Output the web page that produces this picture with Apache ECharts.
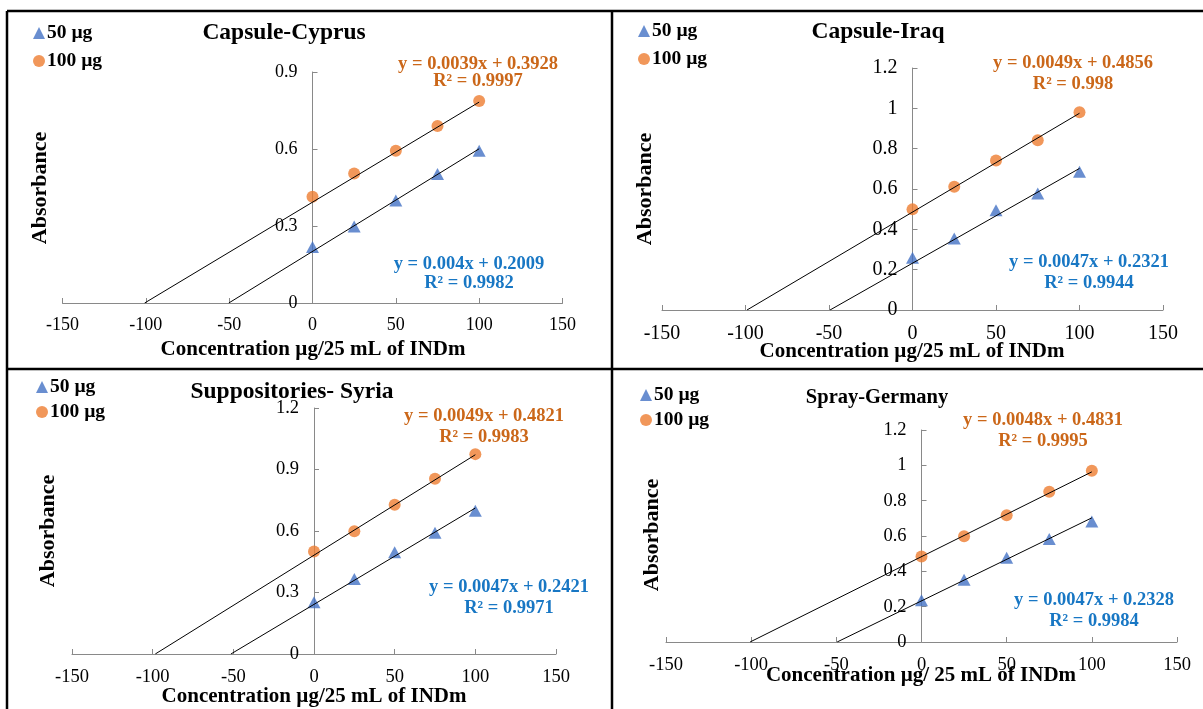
<!DOCTYPE html>
<html>
<head>
<meta charset="utf-8">
<script src="https://cdn.jsdelivr.net/npm/echarts@6/dist/echarts.min.js"></script>
<style>
  html, body { margin: 0; padding: 0; background: #fff; }
  #chart { width: 1203px; height: 709px; }
</style>
</head>
<body>
<div id="chart"></div>
<script>
// Standard-addition calibration data for INDm in four dosage forms
const concentrations = [0, 25, 50, 75, 100];

const cyprus50   = [0.218, 0.298, 0.399, 0.503, 0.593];
const cyprus100  = [0.414, 0.505, 0.593, 0.690, 0.787];
const iraq50     = [0.259, 0.355, 0.495, 0.578, 0.685];
const iraq100    = [0.499, 0.611, 0.741, 0.842, 0.981];
const syria50    = [0.252, 0.366, 0.496, 0.591, 0.699];
const syria100   = [0.500, 0.599, 0.728, 0.855, 0.975];
const germany50  = [0.237, 0.353, 0.477, 0.583, 0.682];
const germany100 = [0.484, 0.598, 0.718, 0.850, 0.970];

const panelTitles = ['Capsule-Cyprus', 'Capsule-Iraq', 'Suppositories- Syria', 'Spray-Germany'];
const xAxisTitles = ['Concentration µg/25 mL of INDm', 'Concentration µg/25 mL of INDm',
                     'Concentration µg/25 mL of INDm', 'Concentration µg/ 25 mL of INDm'];
const yAxisTitle = 'Absorbance';
const seriesNames = ['50 µg', '100 µg'];

// Linear fits (slope, intercept, R²) for each panel
const fit50Slope      = [0.004, 0.0047, 0.0047, 0.0047];
const fit50Intercept  = [0.2009, 0.2321, 0.2421, 0.2328];
const fit50R2         = ['0.9982', '0.9944', '0.9971', '0.9984'];
const fit100Slope     = [0.0039, 0.0049, 0.0049, 0.0048];
const fit100Intercept = [0.3928, 0.4856, 0.4821, 0.4831];
const fit100R2        = ['0.9997', '0.998', '0.9983', '0.9995'];

// Axis ranges
const xMin = -150, xMax = 150, xStep = 50;
const yMax  = [0.9, 1.2, 1.2, 1.2];
const yStep = [0.3, 0.2, 0.3, 0.2];

const values50  = [cyprus50, iraq50, syria50, germany50];
const values100 = [cyprus100, iraq100, syria100, germany100];

// Page layout of the four panels
const layout = [
  { grid: { left: 62.5, top: 72, width: 500, height: 231 },
    title: [284, 33, 23.5], legend: [33, 23, 8], tickFont: 18, labelMargin: 13,
    xName: [313, 350], yName: [40, 188],
    eq100: [478, 64, 81], eq50: [469, 264, 283] },
  { grid: { left: 662, top: 68, width: 501, height: 242 },
    title: [878, 32, 23.5], legend: [638, 21, 8], tickFont: 20, labelMargin: 14,
    xName: [912, 352], yName: [645, 189],
    eq100: [1073, 63, 84], eq50: [1089, 262, 283] },
  { grid: { left: 72, top: 408, width: 484, height: 246 },
    title: [292, 392, 23.5], legend: [36, 377, 5], tickFont: 18.5, labelMargin: 14,
    xName: [314, 697], yName: [48, 531],
    eq100: [484, 416, 437], eq50: [509, 587, 608] },
  { grid: { left: 666, top: 430, width: 511, height: 212 },
    title: [877, 398, 20.5], legend: [640, 385, 5], tickFont: 18.5, labelMargin: 14,
    xName: [921, 676], yName: [652, 535],
    eq100: [1043, 420, 441], eq50: [1094, 600, 621] }
];

const FONT = '"Liberation Serif", "Times New Roman", serif';
const AXIS_GREY = '#898989';
const BLUE = '#4472C4';
const ORANGE = '#ED7D31';
const BLUE_TEXT = '#1877C4';
const ORANGE_TEXT = '#CB6719';

function trendLine(slope, intercept) {
  // Fitted line drawn from its x-intercept to the highest standard
  const x0 = -intercept / slope;
  const x1 = concentrations[concentrations.length - 1];
  return [[x0, 0], [x1, slope * x1 + intercept]];
}

const grids = [], xAxes = [], yAxes = [], series = [], legends = [], graphics = [];

const txt = (s, x, y, size, color) => ({
  type: 'text', silent: true,
  style: { text: s, x: x, y: y, fill: color, font: 'bold ' + size + 'px ' + FONT,
           align: 'center', verticalAlign: 'middle', textAlign: 'center', textVerticalAlign: 'middle' }
});

layout.forEach((p, i) => {
  grids.push(Object.assign({ containLabel: false, outerBoundsMode: 'none' }, p.grid));

  // The vertical axis crosses the horizontal one at x = 0
  const zeroShift = p.grid.width * (0 - xMin) / (xMax - xMin);

  xAxes.push({
    type: 'value', gridIndex: i, min: xMin, max: xMax, interval: xStep,
    axisLine: { show: true, onZero: false, lineStyle: { color: AXIS_GREY, width: 1 } },
    axisTick: { show: true, inside: true, length: 5, lineStyle: { color: AXIS_GREY } },
    axisLabel: { fontFamily: FONT, fontSize: p.tickFont, color: '#000', margin: p.labelMargin },
    splitLine: { show: false }
  });

  yAxes.push({
    type: 'value', gridIndex: i, min: 0, max: yMax[i], interval: yStep[i],
    position: 'left', offset: -zeroShift,
    axisLine: { show: true, onZero: false, lineStyle: { color: AXIS_GREY, width: 1 } },
    axisTick: { show: true, inside: true, length: 5, lineStyle: { color: AXIS_GREY } },
    axisLabel: { fontFamily: FONT, fontSize: p.tickFont, color: '#000', margin: 15 },
    splitLine: { show: false }
  });

  series.push({
    name: seriesNames[0], type: 'scatter', xAxisIndex: i, yAxisIndex: i,
    symbol: 'triangle', symbolSize: [13, 12],
    itemStyle: { color: BLUE },
    data: concentrations.map((c, k) => [c, values50[i][k]]), z: 2
  });
  series.push({
    name: seriesNames[1], type: 'scatter', xAxisIndex: i, yAxisIndex: i,
    symbol: 'circle', symbolSize: 12,
    itemStyle: { color: ORANGE },
    data: concentrations.map((c, k) => [c, values100[i][k]]), z: 2
  });
  series.push({
    type: 'line', xAxisIndex: i, yAxisIndex: i, symbol: 'none', silent: true,
    lineStyle: { color: '#000', width: 1 }, data: trendLine(fit50Slope[i], fit50Intercept[i]), z: 3
  });
  series.push({
    type: 'line', xAxisIndex: i, yAxisIndex: i, symbol: 'none', silent: true,
    lineStyle: { color: '#000', width: 1 }, data: trendLine(fit100Slope[i], fit100Intercept[i]), z: 3
  });

  legends.push({
    data: seriesNames, orient: 'vertical', left: p.legend[0], top: p.legend[1],
    itemGap: p.legend[2], itemWidth: 12, itemHeight: 12, padding: 0,
    selectedMode: false,
    textStyle: { fontFamily: FONT, fontWeight: 'bold', fontSize: 19.5, color: '#000', padding: [0, 0, 0, -3] }
  });

  graphics.push(txt(panelTitles[i], p.title[0], p.title[1], p.title[2], '#000'));
  graphics.push(txt(xAxisTitles[i], p.xName[0], p.xName[1], 21, '#000'));
  graphics.push({
    type: 'text', silent: true, x: p.yName[0], y: p.yName[1], rotation: Math.PI / 2,
    style: { text: yAxisTitle, x: 0, y: 0, fill: '#000', font: 'bold 22px ' + FONT,
             align: 'center', verticalAlign: 'middle', textAlign: 'center', textVerticalAlign: 'middle' }
  });
  graphics.push(txt('y = ' + fit100Slope[i] + 'x + ' + fit100Intercept[i], p.eq100[0], p.eq100[1], 18.5, ORANGE_TEXT));
  graphics.push(txt('R² = ' + fit100R2[i], p.eq100[0], p.eq100[2], 18.5, ORANGE_TEXT));
  graphics.push(txt('y = ' + fit50Slope[i] + 'x + ' + fit50Intercept[i], p.eq50[0], p.eq50[1], 18.5, BLUE_TEXT));
  graphics.push(txt('R² = ' + fit50R2[i], p.eq50[0], p.eq50[2], 18.5, BLUE_TEXT));
});

// Table rules separating the panels
const rule = (x1, y1, x2, y2) => ({
  type: 'line', silent: true, shape: { x1, y1, x2, y2 },
  style: { stroke: '#000', lineWidth: 2.5 }
});
graphics.push(rule(7, 11, 1203, 11));
graphics.push(rule(7, 11, 7, 709));
graphics.push(rule(612, 11, 612, 709));
graphics.push(rule(7, 369, 1203, 369));

const chart = echarts.init(document.getElementById('chart'), null, { renderer: 'canvas' });
chart.setOption({
  animation: false,
  backgroundColor: '#fff',
  grid: grids,
  xAxis: xAxes,
  yAxis: yAxes,
  legend: legends,
  series: series,
  graphic: graphics
});
</script>
</body>
</html>
